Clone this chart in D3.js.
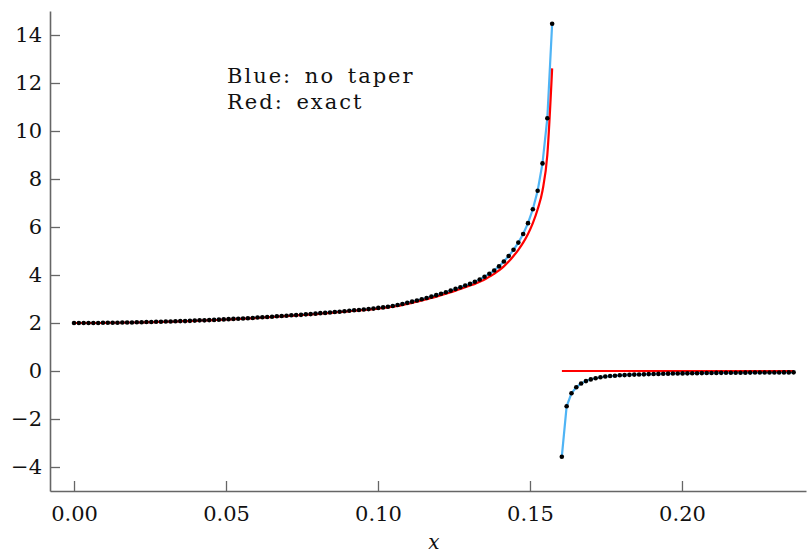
<!DOCTYPE html>
<html>
<head>
<meta charset="utf-8">
<script src="https://cdn.jsdelivr.net/npm/d3@7"></script>
<style>
  body { margin: 0; background: #fff; }
  text { font-family: "DejaVu Serif", serif; fill: #111; }
</style>
</head>
<body>
<div id="chart"></div>
<script>
const width = 809;
const height = 553;

// sample spacing in x (uniform grid, the pole sits at index 100)
const xStep = 0.0015888;

// blue: no taper, indices 0..99
const blueLeft = [
  2.00, 2.00, 2.00, 2.00, 2.00, 2.00, 2.01, 2.01, 2.01, 2.01,
  2.02, 2.02, 2.02, 2.03, 2.03, 2.04, 2.04, 2.05, 2.05, 2.06,
  2.06, 2.07, 2.08, 2.08, 2.09, 2.10, 2.11, 2.11, 2.12, 2.13,
  2.14, 2.15, 2.16, 2.17, 2.18, 2.19, 2.20, 2.21, 2.23, 2.24,
  2.25, 2.26, 2.28, 2.29, 2.30, 2.32, 2.33, 2.34, 2.36, 2.37,
  2.39, 2.41, 2.42, 2.44, 2.46, 2.47, 2.49, 2.51, 2.53, 2.54,
  2.56, 2.58, 2.60, 2.63, 2.65, 2.68, 2.71, 2.75, 2.79, 2.84,
  2.89, 2.94, 2.99, 3.04, 3.10, 3.16, 3.22, 3.28, 3.35, 3.42,
  3.49, 3.56, 3.63, 3.72, 3.81, 3.93, 4.05, 4.19, 4.36, 4.56,
  4.79, 5.05, 5.35, 5.71, 6.16, 6.74, 7.51, 8.65, 10.53, 14.47
];

// blue: no taper, indices 101..149
const blueRight = [
  -3.57, -1.47, -0.93, -0.68, -0.52, -0.42, -0.35, -0.30, -0.26, -0.23,
  -0.21, -0.20, -0.18, -0.17, -0.16, -0.15, -0.145, -0.14, -0.13, -0.125,
  -0.12, -0.115, -0.11, -0.107, -0.103, -0.10, -0.097, -0.094, -0.091, -0.088,
  -0.085, -0.082, -0.08, -0.078, -0.076, -0.074, -0.072, -0.07, -0.068, -0.066,
  -0.065, -0.064, -0.063, -0.062, -0.061, -0.06, -0.059, -0.058, -0.057
];

// red: exact, indices 0..99
const redLeft = [
  2.00, 2.00, 2.00, 2.00, 2.00, 2.00, 2.00, 2.01, 2.01, 2.01,
  2.01, 2.02, 2.02, 2.02, 2.03, 2.03, 2.04, 2.04, 2.05, 2.05,
  2.06, 2.06, 2.07, 2.08, 2.08, 2.09, 2.10, 2.11, 2.11, 2.12,
  2.13, 2.14, 2.15, 2.16, 2.17, 2.18, 2.19, 2.20, 2.21, 2.23,
  2.24, 2.25, 2.26, 2.28, 2.29, 2.30, 2.32, 2.33, 2.34, 2.36,
  2.37, 2.39, 2.41, 2.42, 2.44, 2.46, 2.47, 2.49, 2.51, 2.53,
  2.54, 2.56, 2.58, 2.60, 2.63, 2.65, 2.68, 2.71, 2.75, 2.79,
  2.84, 2.89, 2.94, 2.99, 3.04, 3.10, 3.16, 3.22, 3.28, 3.35,
  3.42, 3.49, 3.56, 3.63, 3.72, 3.81, 3.93, 4.05, 4.19, 4.36,
  4.56, 4.79, 5.05, 5.35, 5.71, 6.16, 6.74, 7.51, 9.00, 12.61
];

// red: exact, flat part after the pole
const redRightX = [0.1605, 0.2367];
const redRightY = [0, 0];

const xTicks = [0, 0.05, 0.10, 0.15, 0.20];
const yTicks = [-4, -2, 0, 2, 4, 6, 8, 10, 12, 14];
const legendLines = ["Blue: no taper", "Red: exact"];

const left = d3.range(blueLeft.length).map(i => ({ x: i * xStep, b: blueLeft[i], r: redLeft[i] }));
const right = blueRight.map((v, j) => ({ x: (101 + j) * xStep, b: v }));
const redFlat = redRightX.map((x, i) => ({ x: x, r: redRightY[i] }));

const svg = d3.select("#chart")
  .append("svg")
  .attr("width", width)
  .attr("height", height);

const x = d3.scaleLinear().domain([-0.0079, 0.2408]).range([50, 806]);
const y = d3.scaleLinear().domain([-5, 15]).range([491, 11]);

// axes, ticks point inward
const xAxis = svg.append("g")
  .attr("transform", "translate(0,491)")
  .call(d3.axisBottom(x).tickValues(xTicks).tickFormat(d3.format(".2f"))
    .tickSizeInner(-10).tickSizeOuter(0).tickPadding(15));

const yAxis = svg.append("g")
  .attr("transform", "translate(50,0)")
  .call(d3.axisLeft(y).tickValues(yTicks)
    .tickSizeInner(-10).tickSizeOuter(0).tickPadding(8));

[xAxis, yAxis].forEach(g => {
  g.select(".domain").attr("stroke", "#666").attr("stroke-width", 1.6);
  g.selectAll(".tick line").attr("stroke", "#666").attr("stroke-width", 1.3);
  g.selectAll(".tick text").attr("font-family", "DejaVu Serif").attr("font-size", 21).attr("fill", "#111");
});

const blueLine = d3.line().x(d => x(d.x)).y(d => y(d.b));
const redLine = d3.line().x(d => x(d.x)).y(d => y(d.r)).curve(d3.curveMonotoneX);

svg.append("path").datum(left).attr("d", blueLine)
  .attr("fill", "none").attr("stroke", "#4fb4f5").attr("stroke-width", 2.2);
svg.append("path").datum(right).attr("d", blueLine)
  .attr("fill", "none").attr("stroke", "#4fb4f5").attr("stroke-width", 2.2);

svg.append("path").datum(left).attr("d", redLine)
  .attr("fill", "none").attr("stroke", "#ff0000").attr("stroke-width", 2.2);
svg.append("path").datum(redFlat).attr("d", redLine)
  .attr("fill", "none").attr("stroke", "#ff0000").attr("stroke-width", 2.2);

// sample points
svg.append("g")
  .selectAll("circle")
  .data(left.concat(right))
  .enter().append("circle")
  .attr("cx", d => x(d.x))
  .attr("cy", d => y(d.b))
  .attr("r", 2.3)
  .attr("fill", "#000");

svg.append("g")
  .selectAll("text")
  .data(legendLines)
  .enter().append("text")
  .attr("x", 227)
  .attr("y", (d, i) => 83 + i * 26)
  .attr("font-size", 21)
  .attr("letter-spacing", 2)
  .attr("word-spacing", 4)
  .text(d => d);

svg.append("text")
  .attr("x", 434)
  .attr("y", 549)
  .attr("text-anchor", "middle")
  .attr("font-size", 20)
  .attr("font-style", "italic")
  .text("x");
</script>
</body>
</html>
